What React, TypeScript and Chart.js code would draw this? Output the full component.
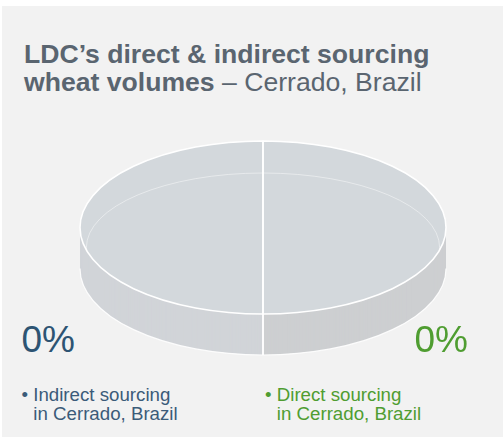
import React, { useEffect, useRef } from "react";
import { Chart, registerables } from "chart.js";

Chart.register(...registerables);

const categories = ["Indirect sourcing in Cerrado, Brazil", "Direct sourcing in Cerrado, Brazil"];
const shares = [0, 0]; // percent, as labelled
const labelColors = ["#2d5473", "#4f9d31"];
const topColors = ["#d3d8dc", "#d3d8dc"];
const sideColors = ["#d1d4d8", "#cdcfd1"];

const FONT = "'Liberation Sans', Arial, sans-serif";

const pie3d = {
  id: "pie3d",
  beforeDatasetsDraw(chart: any, _args: any, opts: any) {
    const ctx: CanvasRenderingContext2D = chart.ctx;
    const meta = chart.getDatasetMeta(0);
    const arcs = meta.data as any[];
    if (!arcs.length) return false;
    const cx = arcs[0].x;
    const cy = arcs[0].y;
    const R = arcs[0].outerRadius;
    const ca = chart.chartArea;
    const sx = ca.width / 2 / R;
    const depth = opts.depth || 40;
    const ds = chart.data.datasets[0];

    const path = (a: any, dy: number) => {
      ctx.save();
      ctx.translate(cx, cy + dy);
      ctx.scale(sx, 1);
      ctx.translate(-cx, -cy);
      ctx.beginPath();
      ctx.moveTo(cx, cy);
      ctx.arc(cx, cy, R, a.startAngle, a.endAngle);
      ctx.closePath();
      ctx.restore();
    };

    // side (extrusion)
    for (let d = depth; d >= 1; d--) {
      arcs.forEach((a, i) => {
        path(a, d);
        ctx.fillStyle = ds.sideColor[i];
        ctx.fill();
      });
    }
    // outline of bottom rim
    ctx.save();
    ctx.translate(cx, cy + depth);
    ctx.scale(sx, 1);
    ctx.beginPath();
    ctx.arc(0, 0, R, 0, Math.PI);
    ctx.restore();
    ctx.strokeStyle = "rgba(255,255,255,0.9)";
    ctx.lineWidth = 1.2;
    ctx.stroke();

    // seams on the front side
    arcs.forEach((a) => {
      [a.startAngle, a.endAngle].forEach((ang: number) => {
        const s = Math.sin(ang);
        if (s > 0.001) {
          const px = cx + R * Math.cos(ang) * sx;
          const py = cy + R * s;
          ctx.beginPath();
          ctx.moveTo(px, py);
          ctx.lineTo(px, py + depth);
          ctx.strokeStyle = "#ffffff";
          ctx.lineWidth = 1.5;
          ctx.stroke();
        }
      });
    });

    // top surface
    arcs.forEach((a, i) => {
      path(a, 0);
      ctx.fillStyle = ds.backgroundColor[i];
      ctx.fill();
    });

    // faint bevel highlight
    ctx.save();
    ctx.beginPath();
    ctx.save();
    ctx.translate(cx, cy);
    ctx.scale(sx, 1);
    ctx.arc(0, 0, R, 0, Math.PI * 2);
    ctx.restore();
    ctx.clip();
    ctx.beginPath();
    ctx.save();
    ctx.translate(cx, cy + R * 0.23);
    ctx.scale(sx * 0.965, 0.86);
    ctx.arc(0, 0, R, 0, Math.PI * 2);
    ctx.restore();
    ctx.strokeStyle = "rgba(255,255,255,0.45)";
    ctx.lineWidth = 1;
    ctx.stroke();
    ctx.restore();

    // top outlines
    arcs.forEach((a) => {
      path(a, 0);
      ctx.strokeStyle = "#ffffff";
      ctx.lineWidth = 1.6;
      ctx.lineJoin = "round";
      ctx.stroke();
    });
    return false;
  },
};

export default function App() {
  const ref = useRef<HTMLCanvasElement | null>(null);

  useEffect(() => {
    if (!ref.current) return;
    // when every share is 0 the source draws equal slices
    const drawn = shares.every((v) => v === 0) ? shares.map(() => 1) : shares;
    const chart = new Chart(ref.current, {
      type: "pie",
      data: {
        labels: categories,
        datasets: [
          {
            data: drawn,
            backgroundColor: topColors,
            borderWidth: 0,
            sideColor: sideColors,
          } as any,
        ],
      },
      options: {
        animation: false,
        responsive: false,
        rotation: 180,
        layout: { padding: { left: 4, right: 4, top: 4, bottom: 45 } },
        plugins: {
          legend: { display: false },
          tooltip: { enabled: false },
          pie3d: { depth: 41 },
        } as any,
      },
      plugins: [pie3d as any],
    });
    return () => chart.destroy();
  }, []);

  const abs = (s: React.CSSProperties): React.CSSProperties => ({ position: "absolute", ...s });

  return (
    <div style={{ position: "fixed", left: 0, top: 0, width: 503, height: 438, background: "#ffffff", fontFamily: FONT, overflow: "hidden" }}>
      <div style={abs({ left: 2, top: 6, width: 501, height: 431, background: "#f2f2f2" })} />
      <div style={abs({ left: 24, top: 39.6, fontSize: 26.6, lineHeight: "28px", color: "#5a6570", whiteSpace: "nowrap" })}>
        <div style={{ fontWeight: "bold" }}>LDC’s direct &amp; indirect sourcing</div>
        <div>
          <span style={{ fontWeight: "bold" }}>wheat volumes</span> – Cerrado, Brazil
        </div>
      </div>
      <canvas ref={ref} width={374} height={222} style={abs({ left: 76, top: 137, width: 374, height: 222 })} />
      <div style={abs({ left: 21.5, top: 320.7, fontSize: 37, lineHeight: "37px", color: labelColors[0] })}>
        {shares[0]}%
      </div>
      <div style={abs({ left: 414.5, top: 320.7, fontSize: 37, lineHeight: "37px", color: labelColors[1] })}>
        {shares[1]}%
      </div>
      <div style={abs({ left: 21.5, top: 384.5, fontSize: 18.7, lineHeight: "19.5px", color: "#3b5b79", whiteSpace: "nowrap" })}>
        <div>• Indirect sourcing</div>
        <div style={{ paddingLeft: 11.8 }}>in Cerrado, Brazil</div>
      </div>
      <div style={abs({ left: 265, top: 384.5, fontSize: 18.7, lineHeight: "19.5px", color: labelColors[1], whiteSpace: "nowrap" })}>
        <div>• Direct sourcing</div>
        <div style={{ paddingLeft: 11.8 }}>in Cerrado, Brazil</div>
      </div>
    </div>
  );
}
